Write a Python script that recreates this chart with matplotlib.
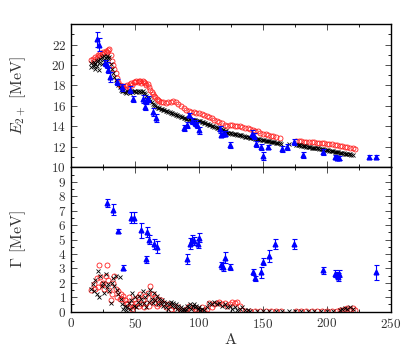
import matplotlib
matplotlib.use("Agg")
import matplotlib.pyplot as plt
from matplotlib.ticker import MultipleLocator

plt.rcParams['font.family'] = 'serif'
plt.rcParams['font.serif'] = ['cmr10', 'DejaVu Serif']
plt.rcParams['mathtext.fontset'] = 'cm'
plt.rcParams['axes.formatter.use_mathtext'] = True

# ---- top panel: E_2+ ----
red_top_A = [16, 17, 18, 19, 20, 21, 22, 23, 24, 25, 26, 27, 28, 29, 30, 31, 32, 33, 34, 35,
             36, 37, 38, 39, 40, 41, 42, 43, 44, 45, 46, 47, 48, 49, 50, 51, 52, 53, 54, 55,
             56, 57, 58, 59, 60, 61, 62, 63, 64, 65, 66, 67, 68, 69, 70, 72, 74, 76, 78, 80,
             82, 84, 86, 88, 90, 92, 94, 96, 98, 100, 102, 104, 106, 108, 110, 112, 114, 116, 118, 120,
             122, 124, 126, 128, 130, 132, 134, 136, 138, 140, 142, 144, 146, 148, 150, 152, 154, 156, 158, 160,
             163, 176, 178, 180, 182, 184, 186, 188, 190, 192, 194, 196, 198, 200, 202, 204, 206, 208, 210, 212,
             214, 216, 218, 220, 222]
red_top_E = [20.5, 20.6, 20.4, 20.8, 20.7, 21.0, 20.9, 21.2, 21.1, 21.3, 21.2, 21.4, 21.3, 21.5, 21.6, 21.0, 20.4, 20.0, 19.6, 19.2,
             18.7, 18.3, 18.0, 17.9, 17.8, 17.9, 17.7, 17.9, 18.0, 17.8, 18.1, 18.2, 18.0, 18.3, 18.3, 18.4, 18.3, 18.4, 18.4, 18.2,
             18.4, 18.3, 18.2, 18.0, 18.1, 17.8, 17.6, 17.4, 17.2, 17.0, 16.9, 16.7, 16.6, 16.5, 16.4, 16.4, 16.3, 16.4, 16.4, 16.5,
             16.4, 16.2, 16.0, 15.8, 15.6, 15.5, 15.4, 15.4, 15.3, 15.3, 15.2, 15.1, 15.0, 14.9, 14.8, 14.6, 14.5, 14.4, 14.3, 14.1,
             14.0, 14.1, 14.1, 14.0, 14.0, 14.0, 13.9, 13.8, 13.8, 13.7, 13.6, 13.5, 13.5, 13.4, 13.3, 13.3, 13.2, 13.1, 13.1, 13.0,
             12.9, 12.6, 12.6, 12.6, 12.5, 12.5, 12.5, 12.5, 12.5, 12.4, 12.4, 12.4, 12.4, 12.3, 12.3, 12.3, 12.2, 12.2, 12.1, 12.1,
             12.0, 12.0, 11.9, 11.9, 11.8]

blk_top_A = [16, 16, 17, 18, 18, 19, 19, 20, 20, 21, 22, 22, 23, 24, 24, 25, 26, 27, 28, 28,
             29, 30, 31, 32, 33, 34, 35, 36, 37, 38, 39, 40, 41, 42, 43, 44, 45, 46, 47, 48,
             49, 50, 51, 52, 53, 54, 55, 56, 57, 58, 59, 60, 61, 62, 63, 64, 65, 66, 67, 68,
             69, 70, 71, 72, 73, 74, 75, 76, 77, 78, 79, 80, 81, 82, 83, 84, 85, 86, 87, 88,
             89, 90, 91, 92, 93, 94, 95, 96, 97, 98, 99, 100, 101, 102, 103, 104, 105, 106, 107, 108,
             109, 110, 111, 112, 113, 114, 115, 116, 117, 118, 119, 120, 121, 122, 123, 124, 125, 126, 127, 128,
             129, 130, 131, 132, 133, 134, 135, 136, 137, 138, 139, 140, 141, 142, 143, 144, 145, 146, 147, 148,
             149, 150, 151, 152, 153, 154, 155, 156, 157, 158, 159, 160, 161, 162, 163, 164, 170, 176, 177, 178,
             179, 180, 181, 182, 183, 184, 185, 186, 187, 188, 189, 190, 191, 192, 193, 194, 195, 196, 197, 198,
             199, 200, 201, 202, 203, 204, 205, 206, 207, 208, 209, 210, 211, 212, 213, 214, 215, 216, 217, 218,
             219, 220]
blk_top_E = [20.2, 19.8, 20.0, 19.9, 20.3, 20.1, 19.6, 20.4, 19.9, 20.5, 20.2, 19.5, 20.6, 20.8, 20.1, 20.5, 20.9, 20.7, 20.9, 20.4,
             20.7, 20.8, 20.1, 19.6, 19.2, 18.8, 18.5, 18.2, 18.0, 17.8, 17.6, 17.5, 17.5, 17.4, 17.3, 17.5, 17.4, 17.3, 17.5, 17.4,
             17.5, 17.5, 17.4, 17.5, 17.4, 17.5, 17.4, 17.5, 17.3, 17.2, 17.0, 16.8, 16.7, 16.5, 16.4, 16.2, 16.1, 16.0, 15.9, 15.8,
             15.8, 15.7, 15.7, 15.6, 15.6, 15.5, 15.5, 15.4, 15.4, 15.3, 15.3, 15.2, 15.2, 15.1, 15.1, 15.0, 15.0, 14.9, 14.9, 14.8,
             14.8, 14.7, 14.7, 14.7, 14.7, 14.6, 14.6, 14.6, 14.6, 14.5, 14.5, 14.5, 14.5, 14.4, 14.4, 14.3, 14.3, 14.2, 14.2, 14.1,
             14.1, 14.0, 14.0, 13.9, 13.9, 13.8, 13.8, 13.7, 13.7, 13.6, 13.6, 13.5, 13.5, 13.4, 13.4, 13.4, 13.4, 13.3, 13.3, 13.3,
             13.3, 13.2, 13.2, 13.2, 13.2, 13.1, 13.1, 13.0, 13.0, 13.0, 13.0, 12.9, 12.9, 12.9, 12.9, 12.8, 12.8, 12.8, 12.8, 12.7,
             12.7, 12.7, 12.7, 12.6, 12.6, 12.6, 12.6, 12.5, 12.5, 12.5, 12.5, 12.4, 12.4, 12.4, 12.4, 12.3, 12.3, 12.2, 12.2, 12.2,
             12.2, 12.1, 12.1, 12.1, 12.1, 12.0, 12.0, 12.0, 12.0, 11.9, 11.9, 11.9, 11.9, 11.9, 11.9, 11.8, 11.8, 11.8, 11.8, 11.7,
             11.7, 11.7, 11.7, 11.6, 11.6, 11.6, 11.6, 11.5, 11.5, 11.5, 11.5, 11.4, 11.4, 11.4, 11.4, 11.3, 11.3, 11.3, 11.3, 11.3,
             11.2, 11.2]

exp_top_A = [20.1, 22.1, 26.8, 28.4, 29.2, 30.5, 36.2, 40.0, 46.3, 48.4, 56.0, 58.0, 59.0, 60.0, 64.3, 66.2,
             88.5, 90.4, 92.4, 94.3, 96.9, 98.2, 100.2, 116.4, 117.5, 118.5, 120.0, 124.2, 141.2, 143.0, 144.5, 148.4,
             150.3, 154.2, 164.8, 169.0, 174.0, 181.5, 197.1, 206.3, 208.0, 209.7, 232.8, 238.0]
exp_top_E = [22.5, 22.0, 20.2, 20.0, 19.5, 18.8, 18.3, 17.8, 17.6, 16.7, 16.7, 15.9, 16.5, 16.7, 15.4, 14.8,
             13.8, 14.1, 15.1, 14.5, 14.3, 14.1, 13.6, 13.7, 13.2, 13.3, 13.3, 12.2, 13.3, 13.1, 12.3, 12.0,
             11.1, 12.0, 11.8, 12.0, 12.5, 11.2, 11.5, 11.0, 10.9, 10.9, 11.0, 11.0]
exp_top_err = [0.7, 0.6, 0.3, 0.3, 0.3, 0.5, 0.3, 0.3, 0.3, 0.3, 0.4, 0.3, 0.3, 0.3, 0.4, 0.4,
               0.3, 0.3, 0.2, 0.3, 0.3, 0.3, 0.3, 0.3, 0.2, 0.2, 0.2, 0.3, 0.3, 0.3, 0.3, 0.3,
               0.4, 0.2, 0.3, 0.3, 0.3, 0.3, 0.3, 0.2, 0.2, 0.2, 0.2, 0.2]

# ---- bottom panel: width Gamma ----
red_bot_A = [16, 18, 19, 20, 21, 22, 23, 24, 25, 26, 27, 28, 29, 30, 31, 32, 33, 34, 35, 36,
             37, 38, 39, 40, 41, 42, 43, 44, 45, 46, 47, 48, 49, 50, 51, 52, 53, 54, 55, 56,
             57, 58, 59, 60, 61, 62, 63, 64, 65, 66, 67, 68, 69, 70, 72, 74, 76, 78, 80, 82,
             84, 86, 88, 90, 92, 94, 96, 98, 100, 102, 104, 106, 108, 110, 112, 114, 116, 118, 120, 122,
             124, 126, 128, 130, 132, 134, 136, 140, 144, 148, 152, 156, 160, 164, 176, 180, 184, 188, 192, 196,
             200, 204, 208, 210, 212, 214, 216, 218, 220, 222]
red_bot_G = [1.5, 1.9, 1.6, 2.3, 1.7, 3.2, 2.4, 1.9, 2.0, 1.6, 2.5, 3.2, 2.2, 1.5, 0.8, 1.2, 2.0, 2.5, 1.6, 1.0,
             1.4, 0.9, 1.2, 0.9, 1.1, 0.8, 0.5, 0.6, 1.0, 0.3, 0.5, 0.2, 0.4, 0.9, 0.6, 1.0, 0.4, 1.2, 0.5, 0.8,
             0.3, 1.1, 0.6, 1.3, 0.4, 1.8, 0.8, 1.2, 0.6, 1.0, 0.4, 0.9, 0.5, 0.8, 0.6, 0.3, 0.5, 0.2, 0.4, 0.1,
             0.3, 0.1, 0.05, 0.2, 0.4, 0.1, 0.3, 0.2, 0.1, 0.3, 0.1, 0.2, 0.6, 0.3, 0.5, 0.6, 0.7, 0.5, 0.6, 0.4,
             0.5, 0.7, 0.6, 0.7, 0.4, 0.1, 0.05, 0.05, 0.03, 0.03, 0.03, 0.02, 0.02, 0.02, 0.02, 0.02, 0.02, 0.02, 0.03, 0.03,
             0.03, 0.05, 0.08, 0.1, 0.15, 0.2, 0.25, 0.2, 0.25, 0.1]

blk_bot_A = [16, 17, 18, 19, 20, 21, 22, 23, 24, 25, 26, 27, 28, 29, 30, 31, 32, 33, 34, 35,
             36, 37, 38, 39, 40, 41, 42, 43, 44, 45, 46, 47, 48, 49, 50, 51, 52, 53, 54, 55,
             56, 57, 58, 59, 60, 61, 62, 63, 64, 65, 66, 67, 68, 69, 70, 71, 72, 73, 74, 75,
             76, 77, 78, 79, 80, 81, 82, 83, 84, 85, 86, 87, 88, 89, 90, 91, 92, 93, 94, 95,
             96, 97, 98, 99, 100, 101, 102, 104, 106, 108, 110, 112, 114, 116, 118, 120, 122, 124, 126, 128,
             130, 132, 134, 136, 138, 140, 145, 150, 155, 160, 165, 170, 175, 180, 185, 190, 195, 200, 205, 210,
             212, 214, 216, 218, 220]
blk_bot_G = [1.6, 1.9, 1.4, 2.2, 1.2, 2.8, 1.0, 2.5, 1.8, 2.0, 1.3, 2.6, 1.7, 1.9, 1.4, 0.6, 2.0, 2.3, 1.8, 2.5,
             1.5, 1.2, 2.4, 0.9, 0.5, 0.2, 0.4, 0.1, 0.3, 0.6, 0.2, 0.8, 1.3, 0.4, 1.0, 0.3, 0.7, 1.1, 0.5, 0.9,
             1.4, 0.6, 1.0, 0.3, 1.2, 0.7, 1.5, 0.9, 0.6, 1.3, 0.8, 1.1, 0.5, 0.9, 0.6, 0.8, 0.4, 0.7, 0.3, 0.6,
             0.2, 0.5, 0.7, 0.4, 0.6, 0.3, 0.5, 0.2, 0.4, 0.1, 0.3, 0.1, 0.2, 0.05, 0.2, 0.4, 0.3, 0.5, 0.2, 0.4,
             0.5, 0.3, 0.4, 0.2, 0.3, 0.1, 0.2, 0.1, 0.3, 0.6, 0.5, 0.7, 0.5, 0.6, 0.4, 0.5, 0.3, 0.4, 0.2, 0.3,
             0.1, 0.2, 0.3, 0.1, 0.1, 0.05, 0.05, 0.04, 0.04, 0.03, 0.03, 0.03, 0.03, 0.03, 0.03, 0.04, 0.04, 0.05, 0.08, 0.1,
             0.2, 0.25, 0.2, 0.3, 0.2]

exp_bot_A = [27.9, 33.1, 36.5, 40.4, 46.9, 49.2, 54.7, 58.6, 59.6, 60.9, 64.6, 66.9, 90.6, 92.7, 94.8, 96.4,
             99.0, 100.2, 116.9, 118.5, 120.3, 124.2, 141.9, 144.0, 148.4, 150.3, 154.4, 159.1, 174.2, 197.1, 206.3, 207.6,
             208.4, 209.7, 238.0]
exp_bot_G = [7.53, 7.07, 5.6, 3.06, 6.52, 6.52, 5.63, 3.63, 5.49, 4.98, 4.66, 4.48, 3.63, 4.71, 4.98, 4.9,
             4.7, 5.12, 3.22, 3.1, 3.74, 3.1, 2.73, 2.3, 2.73, 3.45, 3.84, 4.66, 4.66, 2.87, 2.64, 2.56,
             2.4, 2.64, 2.73]
exp_bot_err = [0.25, 0.4, 0.15, 0.2, 0.4, 0.4, 0.5, 0.25, 0.35, 0.3, 0.35, 0.4, 0.35, 0.4, 0.35, 0.3,
               0.3, 0.3, 0.25, 0.3, 0.4, 0.2, 0.2, 0.15, 0.4, 0.25, 0.4, 0.35, 0.35, 0.25, 0.25, 0.2,
               0.3, 0.25, 0.5]

fig = plt.figure(figsize=(4.15, 3.46), dpi=100)
ax1 = fig.add_axes([0.171, 0.5165, 0.771, 0.414])
ax2 = fig.add_axes([0.171, 0.0991, 0.771, 0.4174], sharex=ax1)

for ax, ra, rv, ba, bv, ea, ev, ee in [
        (ax1, red_top_A, red_top_E, blk_top_A, blk_top_E, exp_top_A, exp_top_E, exp_top_err),
        (ax2, red_bot_A, red_bot_G, blk_bot_A, blk_bot_G, exp_bot_A, exp_bot_G, exp_bot_err)]:
    ax.plot(ra, rv, 'o', ms=3.6, mfc='none', mec='#ff2020', mew=0.6, zorder=2)
    ax.plot(ba, bv, 'x', ms=3.4, color='black', mew=0.6, zorder=3)
    ax.errorbar(ea, ev, yerr=ee, fmt='^', ms=3.4, color='#0000ff', ecolor='#0000ff',
                elinewidth=0.8, capsize=1.8, capthick=0.8, zorder=4)
    ax.tick_params(which='both', direction='in', top=True, right=True, labelsize=9.5, width=0.6)
    ax.tick_params(which='major', length=4)
    ax.tick_params(which='minor', length=2.5)
    ax.xaxis.set_major_locator(MultipleLocator(50))
    ax.xaxis.set_minor_locator(MultipleLocator(25))
    for s in ax.spines.values():
        s.set_linewidth(1.0)
    ax.tick_params(axis='both', colors='#333333', labelcolor='#333333')

ax1.set_xlim(0, 250)
ax1.set_ylim(10, 24)
ax1.yaxis.set_major_locator(MultipleLocator(2))
ax1.yaxis.set_minor_locator(MultipleLocator(1))
ax1.set_yticks([10, 12, 14, 16, 18, 20, 22])
ax1.tick_params(labelbottom=False)
ax1.set_ylabel('$E_{2+}$ [MeV]', fontsize=11.5, color='#333333')

ax2.set_ylim(0, 10)
ax2.set_yticks(range(0, 10))
ax2.yaxis.set_minor_locator(MultipleLocator(0.5))
ax2.set_ylabel(r'$\Gamma$ [MeV]', fontsize=11.5, color='#333333')
ax2.set_xlabel('A', fontsize=11.5, color='#333333', labelpad=2)

ax1.yaxis.set_label_coords(-0.135, 0.5)
ax2.yaxis.set_label_coords(-0.135, 0.5)

fig.savefig('out.png', dpi=100)
